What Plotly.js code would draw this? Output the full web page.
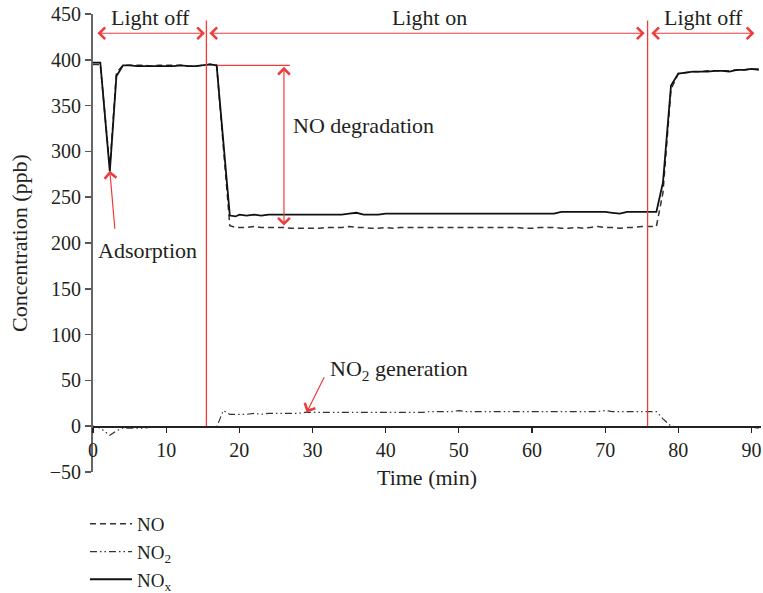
<!DOCTYPE html>
<html>
<head>
<meta charset="utf-8">
<script src="https://cdn.plot.ly/plotly-3.0.1.min.js"></script>
<style>html,body{margin:0;padding:0;background:#fff;}#chart{width:763px;height:593px;}</style>
</head>
<body>
<div id="chart"></div>
<script>
// Time (min)
const time = [0, 1, 2.3, 3.2, 4.1,
  5, 6, 7, 8, 9, 10, 11, 12, 13, 14, 15, 16,
  16.9, 17.8, 18.7, 19.5,
  20, 21, 22, 23, 24, 25, 26, 27, 28, 29, 30, 31, 32, 33, 34, 35, 36, 37, 38, 39,
  40, 41, 42, 43, 44, 45, 46, 47, 48, 49, 50, 51, 52, 53, 54, 55, 56, 57, 58, 59,
  60, 61, 62, 63, 64, 65, 66, 67, 68, 69, 70, 71, 72, 73, 74, 75, 76, 77,
  77.9, 79, 80, 81, 82, 83, 84, 85, 86, 87, 88, 89, 90, 91];

// NO concentration (ppb)
const noValues = [395, 395, 282, 386, 394,
  394, 394, 394, 393, 394, 394, 394, 394, 393, 393, 394, 395,
  394, 305, 219, 217,
  217, 217, 218, 217, 217, 217, 217, 216, 216, 216, 216, 216, 217, 217, 217, 218, 217, 217, 216, 216,
  217, 216, 217, 217, 217, 217, 217, 217, 217, 217, 217, 217, 217, 217, 217, 217, 217, 217, 217, 216,
  216, 217, 217, 217, 216, 216, 217, 216, 217, 218, 217, 217, 216, 217, 217, 218, 218, 218,
  255, 368, 385, 386, 387, 387, 388, 388, 388, 388, 389, 389, 390, 390];

// NO2 concentration (ppb)
const no2Values = [0, -2, -10, -5, -2,
  -2, -2, -2, -1, -1, -1, -1, -1, -1, -1, -1, -1,
  -1, 17, 13, 13,
  13, 13, 14, 13, 14, 14, 14, 14, 14, 15, 15, 15, 15, 15, 15, 15, 15, 15, 15, 15,
  15, 15, 15, 15, 15, 15, 16, 16, 16, 16, 17, 16, 16, 16, 16, 16, 16, 16, 16, 16,
  16, 16, 16, 16, 16, 16, 16, 16, 16, 16, 17, 16, 16, 16, 16, 16, 16, 16,
  8, 0, -1, -1, -1, -1, -1, -1, -1, -1, -1, -1, -1, -2];

// NOx concentration (ppb)
const noxValues = [397, 397, 278, 382, 394,
  394, 393, 393, 393, 393, 393, 393, 394, 393, 393, 394, 395,
  394, 312, 230, 229,
  231, 230, 231, 230, 231, 231, 231, 231, 231, 231, 231, 231, 231, 231, 231, 232, 233, 231, 231, 231,
  232, 232, 232, 232, 232, 232, 232, 232, 232, 232, 232, 232, 232, 232, 232, 232, 232, 232, 232, 232,
  232, 232, 232, 232, 234, 234, 234, 234, 234, 234, 234, 233, 232, 234, 234, 234, 234, 234,
  266, 372, 385, 386, 387, 387, 387, 388, 388, 387, 389, 389, 390, 389];

const seriesNames = ['NO', 'NO<sub>2</sub>', 'NO<sub>x</sub>'];
const xTicks = [0, 10, 20, 30, 40, 50, 60, 70, 80, 90];
const yTicks = [-50, 0, 50, 100, 150, 200, 250, 300, 350, 400, 450];

const FONT = 'Liberation Serif, Times New Roman, serif';
const TXT = '#231f20';
const RED = '#ee3b3b';

const traces = [
  {x: time, y: noValues, name: seriesNames[0], mode: 'lines', type: 'scatter',
   line: {color: '#333', width: 1.5, dash: '6px,4px'}},
  {x: time, y: no2Values, name: seriesNames[1], mode: 'lines', type: 'scatter',
   line: {color: '#333', width: 1.2, dash: '7px,3px,1.5px,3px,1.5px,3px'}},
  {x: time, y: noxValues, name: seriesNames[2], mode: 'lines', type: 'scatter',
   line: {color: '#111', width: 1.8}}
];

function dbl(x0, y0, x1, y1) {
  return {x: x1, y: y1, ax: x0, ay: y0, xref: 'x', yref: 'y', axref: 'x', ayref: 'y',
    text: '', showarrow: true, arrowside: 'end+start', arrowhead: 4, startarrowhead: 4,
    arrowsize: 1.9, startarrowsize: 1.9, arrowwidth: 1.2, arrowcolor: RED, standoff: 0, startstandoff: 0};
}
function single(x0, y0, x1, y1) {
  return {x: x1, y: y1, ax: x0, ay: y0, xref: 'x', yref: 'y', axref: 'x', ayref: 'y',
    text: '', showarrow: true, arrowside: 'end', arrowhead: 4,
    arrowsize: 1.9, arrowwidth: 1.2, arrowcolor: RED, standoff: 0};
}
function label(x, y, t, anchor) {
  return {x: x, y: y, xref: 'x', yref: 'y', text: t, showarrow: false,
    xanchor: anchor || 'center', yanchor: 'middle', font: {family: FONT, size: 22, color: TXT}};
}

const layout = {
  width: 763, height: 593,
  margin: {l: 93, r: 2, t: 14, b: 121, autoexpand: false},
  paper_bgcolor: '#fff', plot_bgcolor: '#fff',
  font: {family: FONT, size: 20, color: TXT},
  showlegend: true,
  legend: {x: -0.012, y: -0.072, xanchor: 'left', yanchor: 'top', orientation: 'v', itemwidth: 42,
    font: {family: FONT, size: 19, color: TXT}, bgcolor: 'rgba(0,0,0,0)', tracegroupgap: 0},
  xaxis: {
    range: [0, 91.3], anchor: 'free', position: 0.1,
    tickvals: xTicks, ticks: 'outside', ticklen: 5, tickcolor: '#222', tickwidth: 1.2,
    showline: true, linecolor: '#222', linewidth: 1.4,
    showgrid: false, zeroline: false,
    tickfont: {family: FONT, size: 20, color: TXT},
    title: {text: 'Time (min)', font: {family: FONT, size: 22, color: TXT}, standoff: 10}
  },
  yaxis: {
    range: [-50, 450], tickvals: yTicks, ticks: 'outside', ticklen: 6, tickcolor: '#555', tickwidth: 1.5,
    showline: true, linecolor: '#666', linewidth: 2,
    showgrid: false, zeroline: false,
    tickfont: {family: FONT, size: 20, color: TXT},
    title: {text: 'Concentration (ppb)', font: {family: FONT, size: 22, color: TXT}, standoff: 16}
  },
  shapes: [
    {type: 'line', xref: 'x', yref: 'y', x0: 15.5, x1: 15.5, y0: 0, y1: 443, line: {color: RED, width: 1.3}},
    {type: 'line', xref: 'x', yref: 'y', x0: 75.8, x1: 75.8, y0: 0, y1: 443, line: {color: RED, width: 1.3}},
    {type: 'line', xref: 'x', yref: 'y', x0: 17.0, x1: 26.9, y0: 394, y1: 394, line: {color: RED, width: 1.3}}
  ],
  annotations: [
    dbl(0.4, 429, 15.3, 429),
    dbl(15.7, 429, 75.4, 429),
    dbl(76.1, 429, 90.4, 429),
    dbl(26.1, 394, 26.1, 219),
    single(3.0, 214, 2.3, 279),
    single(31.7, 55, 29.2, 15),
    label(7.8, 446, 'Light off'),
    label(46.0, 446, 'Light on'),
    label(83.5, 446, 'Light off'),
    label(27.0, 328, 'NO degradation', 'left'),
    label(7.5, 192, 'Adsorption'),
    label(41.8, 61, 'NO<sub>2</sub> generation')
  ]
};

Plotly.newPlot('chart', traces, layout, {displayModeBar: false, staticPlot: true});
</script>
</body>
</html>
